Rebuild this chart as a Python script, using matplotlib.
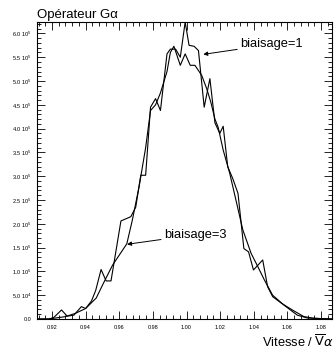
import matplotlib
matplotlib.use("Agg")
import matplotlib.pyplot as plt
from matplotlib.ticker import MultipleLocator, FuncFormatter
import math

# biaisage=1 (courbe bruitée)
vitesse_b1 = [0.9111, 0.918, 0.921, 0.9257, 0.929, 0.933, 0.9375, 0.940, 0.9435,
              0.946, 0.9492, 0.9522, 0.9551, 0.961, 0.9669, 0.9698, 0.9728, 0.9757,
              0.9786, 0.9816, 0.9845, 0.9884, 0.9904, 0.9935, 0.9963, 0.9992, 1.0015,
              1.0045, 1.0071, 1.0105, 1.0139, 1.0169, 1.0198, 1.0218, 1.0245, 1.0275,
              1.0306, 1.0341, 1.0369, 1.0398, 1.0453, 1.0482, 1.0512, 1.0565, 1.0629,
              1.0698, 1.0757, 1.0865]
g_b1 = [0, 0, 0.3e4, 1.9e4, 0.6e4, 0.8e4, 2.6e4, 2.2e4, 3.8e4,
        6.0e4, 1.04e5, 0.80e5, 0.80e5, 2.06e5, 2.15e5, 2.35e5, 3.02e5, 3.02e5,
        4.45e5, 4.63e5, 4.38e5, 5.57e5, 5.67e5, 5.67e5, 5.50e5, 6.24e5, 5.75e5,
        5.73e5, 5.64e5, 4.45e5, 5.05e5, 4.12e5, 3.90e5, 4.05e5, 3.20e5, 2.95e5,
        2.64e5, 1.48e5, 1.41e5, 1.03e5, 1.24e5, 6.8e4, 4.7e4, 3.3e4, 1.9e4,
        0.5e4, 0.15e4, 0]

# biaisage=3 (courbe plus lisse)
vitesse_b3 = [0.9111, 0.918, 0.922, 0.928, 0.934, 0.940, 0.9463, 0.951, 0.956,
              0.9645, 0.9678, 0.9718, 0.9757, 0.9786, 0.9816, 0.9845, 0.9884,
              0.9904, 0.9925, 0.9963, 0.9992, 1.0022, 1.005, 1.009, 1.012, 1.0145,
              1.0169, 1.0188, 1.0218, 1.0257, 1.0335, 1.0384, 1.0424, 1.0463,
              1.0512, 1.058, 1.0659, 1.072, 1.0865]
g_b3 = [0, 0, 0.2e4, 0.5e4, 1.2e4, 2.2e4, 4.4e4, 7.8e4, 1.13e5,
        1.58e5, 2.08e5, 2.78e5, 3.6e5, 4.38e5, 4.5e5, 4.75e5, 5.2e5,
        5.6e5, 5.73e5, 5.33e5, 5.57e5, 5.33e5, 5.33e5, 5.12e5, 4.84e5, 4.55e5,
        4.2e5, 4.03e5, 3.55e5, 3.06e5, 1.87e5, 1.38e5, 1.1e5, 8.2e4,
        5.0e4, 2.9e4, 0.8e4, 0.2e4, 0]


def fmt_y(v, pos):
    if v < 1:
        return "0.0"
    e = int(math.floor(math.log10(v) + 1e-9))
    m = v / 10 ** e
    return f"{m:.1f} 10$^{{{e}}}$"


def main():
    plt.rcParams["font.family"] = ["Liberation Sans", "DejaVu Sans"]
    plt.rcParams["mathtext.fontset"] = "dejavusans"

    fig = plt.figure(figsize=(3.34, 3.54), dpi=100)
    ax = fig.add_axes([37 / 334, 35 / 354, 295 / 334, 297 / 354])

    ax.plot(vitesse_b1, g_b1, color="black", lw=0.8)
    ax.plot(vitesse_b3, g_b3, color="black", lw=0.8)

    ax.set_xlim(0.9111, 1.0865)
    ax.set_ylim(0, 6.24e5)

    ax.xaxis.set_major_locator(MultipleLocator(0.02))
    ax.xaxis.set_minor_locator(MultipleLocator(0.004))
    ax.yaxis.set_major_locator(MultipleLocator(5e4))
    ax.yaxis.set_minor_locator(MultipleLocator(1e4))
    ax.xaxis.set_major_formatter(FuncFormatter(lambda v, p: f"{v:.2f}"))
    ax.yaxis.set_major_formatter(FuncFormatter(fmt_y))

    ax.tick_params(which="both", direction="in", top=True, right=True,
                   width=0.6, labelsize=4)
    ax.tick_params(which="major", length=6, pad=4)
    ax.tick_params(which="minor", length=3)
    for s in ax.spines.values():
        s.set_linewidth(0.8)

    fig.text(37 / 334, 1 - 18 / 354, "Opérateur G\u03b1", fontsize=9.5,
             ha="left", va="baseline")
    fig.text(262 / 334, 1 - 347 / 354, r"Vitesse / $\overline{\mathrm{V}}\alpha$",
             fontsize=9.3, ha="left", va="baseline")

    arrow = dict(arrowstyle="-|>", color="black", lw=0.7, mutation_scale=6,
                 shrinkA=0, shrinkB=0)
    ax.annotate("biaisage=1", xy=(1.010, 5.56e5), xytext=(1.0318, 5.77e5),
                fontsize=9.3, va="center", ha="left", arrowprops=arrow)
    ax.annotate("biaisage=3", xy=(0.9647, 1.57e5), xytext=(0.9865, 1.77e5),
                fontsize=9.3, va="center", ha="left", arrowprops=arrow)

    fig.savefig("out.png", dpi=100)


if __name__ == "__main__":
    main()
